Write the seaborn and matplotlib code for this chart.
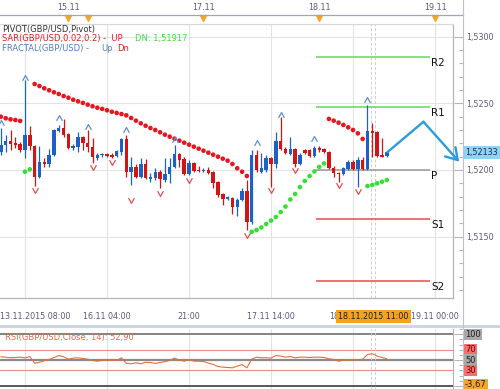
import numpy as np
import pandas as pd
import matplotlib
matplotlib.use("Agg")
import matplotlib.pyplot as plt
import seaborn as sns
from matplotlib.path import Path
from matplotlib.lines import Line2D
from matplotlib.patches import Rectangle
from matplotlib.ticker import MultipleLocator, FuncFormatter
import matplotlib.transforms as mtransforms

# ---------------- data (GBP/USD, H1) ----------------
bars = list(range(-22, 59))          # hourly bar index, 0 = 16.11 04:00
open_ = [1.52135, 1.52188, 1.52218, 1.52203, 1.52195, 1.52150, 1.52263, 1.52180, 1.51947, 1.52060,
         1.52045, 1.52113, 1.52293, 1.52315, 1.52270, 1.52165, 1.52173, 1.52248, 1.52203, 1.52173,
         1.52090, 1.52109, 1.52120, 1.52109, 1.52105, 1.52135, 1.52233, 1.51985, 1.52023, 1.51947,
         1.52045, 1.51932, 1.51940, 1.51985, 1.51925, 1.51970, 1.52023, 1.52120, 1.52083, 1.51970,
         1.52053, 1.52000, 1.51992, 1.52000, 1.51985, 1.51910, 1.51820, 1.51782, 1.51790, 1.51722,
         1.51775, 1.51842, 1.51610, 1.52113, 1.51985, 1.52000, 1.52090, 1.52045, 1.52218, 1.52158,
         1.52120, 1.52158, 1.52045, 1.52150, 1.52150, 1.52105, 1.52165, 1.52158, 1.52135, 1.52015,
         1.51977, 1.51970, 1.52008, 1.52060, 1.52008, 1.52075, 1.52008, 1.52293, 1.52285, 1.52113,
         1.52105]
high = [1.52315, 1.52263, 1.52300, 1.52248, 1.52210, 1.52675, 1.52330, 1.52188, 1.52180, 1.52090,
        1.52158, 1.52308, 1.52338, 1.52383, 1.52278, 1.52195, 1.52285, 1.52255, 1.52300, 1.52240,
        1.52128, 1.52128, 1.52128, 1.52128, 1.52150, 1.52240, 1.52263, 1.52098, 1.52045, 1.52090,
        1.52083, 1.51977, 1.52015, 1.52000, 1.52090, 1.52090, 1.52188, 1.52128, 1.52098, 1.52075,
        1.52060, 1.52030, 1.52015, 1.52023, 1.51989, 1.51914, 1.51827, 1.51805, 1.51797, 1.51790,
        1.51865, 1.51925, 1.52150, 1.52150, 1.52128, 1.52113, 1.52098, 1.52285, 1.52398, 1.52173,
        1.52248, 1.52165, 1.52128, 1.52158, 1.52158, 1.52180, 1.52180, 1.52165, 1.52139, 1.52030,
        1.51985, 1.52023, 1.52075, 1.52075, 1.52098, 1.52098, 1.52488, 1.52353, 1.52293, 1.52240,
        1.52143]
low = [1.52113, 1.52135, 1.52150, 1.52165, 1.52135, 1.52090, 1.52150, 1.51880, 1.51940, 1.52023,
       1.52023, 1.52105, 1.52285, 1.52248, 1.52158, 1.52150, 1.52135, 1.52150, 1.52135, 1.52053,
       1.52075, 1.52098, 1.52098, 1.52090, 1.52098, 1.52113, 1.51947, 1.51887, 1.51940, 1.51940,
       1.51936, 1.51910, 1.51925, 1.51865, 1.51910, 1.51902, 1.52015, 1.52023, 1.51962, 1.51962,
       1.51985, 1.51985, 1.51985, 1.51970, 1.51865, 1.51797, 1.51737, 1.51775, 1.51670, 1.51655,
       1.51767, 1.51550, 1.51595, 1.51985, 1.51977, 1.51985, 1.51872, 1.52015, 1.52150, 1.52120,
       1.52113, 1.52023, 1.52038, 1.52120, 1.52098, 1.52098, 1.52135, 1.52128, 1.52008, 1.51947,
       1.51910, 1.51962, 1.52000, 1.52000, 1.51872, 1.52000, 1.52000, 1.52098, 1.52098, 1.52094,
       1.52098]
close = [1.52188, 1.52218, 1.52195, 1.52188, 1.52150, 1.52263, 1.52180, 1.51947, 1.52060, 1.52045,
         1.52113, 1.52300, 1.52315, 1.52263, 1.52165, 1.52180, 1.52248, 1.52203, 1.52173, 1.52098,
         1.52113, 1.52120, 1.52105, 1.52101, 1.52143, 1.52233, 1.51985, 1.52023, 1.51947, 1.52045,
         1.51940, 1.51947, 1.51985, 1.51932, 1.51970, 1.52023, 1.52120, 1.52075, 1.51970, 1.52053,
         1.51992, 1.51989, 1.52000, 1.51977, 1.51902, 1.51812, 1.51782, 1.51797, 1.51722, 1.51775,
         1.51842, 1.51610, 1.52113, 1.52000, 1.52015, 1.52090, 1.52045, 1.52218, 1.52158, 1.52128,
         1.52158, 1.52045, 1.52113, 1.52128, 1.52105, 1.52165, 1.52150, 1.52135, 1.52015, 1.51977,
         1.51970, 1.52015, 1.52060, 1.52008, 1.52075, 1.52008, 1.52293, 1.52278, 1.52105, 1.52098,
         1.52133]
sar = [1.52400, 1.52388, 1.52380, 1.52375, 1.52368, 1.51987, 1.52005, 1.52645, 1.52630, 1.52613,
       1.52598, 1.52583, 1.52570, 1.52555, 1.52542, 1.52527, 1.52515, 1.52503, 1.52490, 1.52478,
       1.52467, 1.52458, 1.52448, 1.52437, 1.52428, 1.52420, 1.52410, 1.52390, 1.52370, 1.52350,
       1.52332, 1.52315, 1.52300, 1.52283, 1.52265, 1.52250, 1.52235, 1.52220, 1.52205, 1.52190,
       1.52175, 1.52160, 1.52145, 1.52130, 1.52115, 1.52100, 1.52085, 1.52070, 1.52045, 1.52013,
       1.51987, 1.51955, 1.51537, 1.51550, 1.51569, 1.51595, 1.51621, 1.51648, 1.51685, 1.51726,
       1.51779, 1.51820, 1.51872, 1.51918, 1.51955, 1.51989, 1.52023, 1.52049, 1.52383, 1.52370,
       1.52355, 1.52338, 1.52320, 1.52300, 1.52275, 1.52233, 1.51880, 1.51888, 1.51900, 1.51912,
       1.51925]
rsi = [56.6, 55.8, 54.7, 55.0, 55.8, 54.6, 57.0, 44.0, 46.0, 48.8,
       51.4, 55.0, 59.0, 56.6, 52.0, 54.0, 54.6, 53.3, 52.0, 49.4,
       48.0, 49.4, 50.0, 50.0, 49.4, 54.6, 44.0, 43.0, 45.0, 43.0,
       46.0, 45.5, 43.6, 45.5, 47.0, 49.4, 54.0, 50.0, 48.0, 51.4,
       48.0, 48.0, 47.5, 44.5, 41.6, 37.7, 36.4, 35.8, 35.2, 38.3,
       41.6, 35.2, 52.0, 55.8, 54.6, 54.6, 54.0, 59.0, 57.8, 55.8,
       57.0, 54.6, 55.8, 55.8, 55.2, 55.8, 55.8, 55.2, 52.7, 51.4,
       48.0, 50.0, 50.8, 50.8, 50.0, 52.0, 61.0, 62.5, 57.8, 55.2,
       52.9]
frac_up_bar = [-22, -17, -10, -4, 4, 14, 31, 36, 43, 54]
frac_up_val = [1.52353, 1.52690, 1.52390, 1.52323, 1.52300, 1.52225, 1.52205, 1.52413, 1.52233, 1.52525]
frac_dn_bar = [-15, -3, 1, 5, 11, 17, 29, 34, 39, 48, 52]
frac_dn_val = [1.51850, 1.52023, 1.52060, 1.51775, 1.51828, 1.51925, 1.51512, 1.51850, 1.52000, 1.51888, 1.51843]
pivot_names = ["R2", "R1", "P", "S1", "S2"]
pivot_vals = [1.52850, 1.52475, 1.52003, 1.51636, 1.51165]
pivot_span = [43.3, 67.0]
arrow_bar = [58.1, 65.6, 73.0]
arrow_val = [1.52133, 1.52362, 1.52062]
time_ticks = [-17, 0, 17, 34, 51, 68]
time_labels = ["13.11.2015 08:00", "16.11 04:00", "21:00", "17.11 14:00", "18", "19.11 00:00"]
day_ticks = [-8, -4, 20, 44, 68]
day_labels = ["15.11", "", "17.11", "18.11", "19.11"]
price_grid = [1.515, 1.520, 1.525, 1.530]
cursor_label = "18.11.2015 11:00"
cursor_bars = [54.66, 55.62]
last_price = 1.52133
rsi_levels = [100, 70, 50, 30]
rsi_min = -3.67

# ---------------- style ----------------
sns.set_style("white")
plt.rcParams['font.family'] = ['DejaVu Sans']

BLUE, RED = '#1c62c4', '#d41414'
SAR_RED, SAR_GREEN = '#e8141e', '#33e033'
AXC = '#5a5a7a'
W, H = 500, 389
X0, DX = 107.0, 4.824


def fx(px):
    return px / W


def fy(py):
    return 1 - py / H


def kx(px):
    return (px - X0) / DX


df = pd.DataFrame({'bar': bars, 'open': open_, 'high': high, 'low': low,
                   'close': close, 'sar': sar, 'rsi': rsi})
df['side'] = np.where(df['sar'] > df['high'], 'dn', 'up')
up = df['close'] >= df['open']
colors = np.where(up, BLUE, RED)

fig = plt.figure(figsize=(W / 100, H / 100), dpi=100)

PR_BOT, PR_TOP = 1.51040, 1.53095

# ---------------- main price axes ----------------
ax = fig.add_axes([0, fy(298), fx(453), (298 - 24) / H])
ax.set_xlim(kx(0), kx(453))
ax.set_ylim(PR_BOT, PR_TOP)
ax.spines['left'].set_visible(False)
ax.spines['top'].set_color('#d8d8d8')
ax.spines['right'].set_color('#b4b4b4')
ax.spines['bottom'].set_color('#b4b4c0')
for s in ax.spines.values():
    s.set_linewidth(0.9)
ax.set_yticks(price_grid)
ax.tick_params(axis='y', left=False, right=False, labelleft=False)
ax.set_xticks(time_ticks)
ax.set_xticklabels([''] * len(time_ticks))
ax.xaxis.set_minor_locator(MultipleLocator(17 / 6))
ax.tick_params(axis='x', which='major', direction='out', length=6.5, width=0.8,
               color='#a8a8b8')
ax.tick_params(axis='x', which='minor', direction='out', length=3.2, width=0.8, color='#a8a8b8')
ax.grid(True, which='major', color='#e3e3e3', lw=0.8)
ax.set_axisbelow(True)

# time labels under the axis
bt = mtransforms.blended_transform_factory(ax.transData, ax.transAxes)
LAB_Y = (298 - 316.5) / 274
for k, lab in zip(time_ticks, time_labels):
    if lab == time_labels[0]:
        ax.text(kx(0), LAB_Y, lab, transform=bt, ha='left', va='center', fontsize=5.8, color=AXC)
    elif lab == "18":
        ax.text(kx(329), LAB_Y, lab, transform=bt, ha='left', va='center', fontsize=5.8, color=AXC)
    else:
        ax.text(k, LAB_Y, lab, transform=bt, ha='center', va='center', fontsize=5.8, color=AXC)
ax.text(55.25, LAB_Y, cursor_label, transform=bt,
        ha='center', va='center', fontsize=5.8, color='#202020', zorder=10,
        bbox=dict(boxstyle='square,pad=0.3', fc='#f7a21b', ec='none'))

for cx in cursor_bars:
    ax.axvline(cx, color='#cfcfcf', lw=0.7, ls=(0, (3, 2)), zorder=1)

# pivot lines
piv_colors = ['#6edc6e', '#6edc6e', '#a0a0a0', '#ec5a5a', '#ec5a5a']
for name, v, c in zip(pivot_names, pivot_vals, piv_colors):
    ax.hlines(v, pivot_span[0], pivot_span[1], color=c, lw=1.2, zorder=2)
    ax.annotate(name, (kx(431.5), v), xytext=(0, -0.8), textcoords='offset points',
                ha='left', va='top', fontsize=7.5, color='#111111', annotation_clip=False)

# candles
ax.vlines(df['bar'], df['low'], df['high'], colors=colors, lw=0.9, zorder=3)
body = (df['close'] - df['open']).abs().clip(lower=0.00009)
ax.bar(df['bar'], body, bottom=np.minimum(df['open'], df['close']), width=0.72,
       color=colors, linewidth=0, zorder=4)

# parabolic SAR
sns.scatterplot(data=df, x='bar', y='sar', hue='side',
                palette={'dn': SAR_RED, 'up': SAR_GREEN}, s=11, edgecolor='none',
                legend=False, ax=ax, zorder=5)

# fractals
up_path = Path([(-1, -0.8), (0, 1), (1, -0.8)], [Path.MOVETO, Path.LINETO, Path.LINETO])
dn_path = Path([(-1, 0.8), (0, -1), (1, 0.8)], [Path.MOVETO, Path.LINETO, Path.LINETO])
ax.plot(frac_up_bar, frac_up_val, ls='none', marker=up_path, ms=4.2, mfc='none',
        mec='#5a8ed6', mew=0.9, zorder=6)
ax.plot(frac_dn_bar, frac_dn_val, ls='none', marker=dn_path, ms=4.2, mfc='none',
        mec='#e05050', mew=0.9, zorder=6)

# drawn arrow
ARROW = '#2a9de0'
ax.plot(arrow_bar[:2], arrow_val[:2], color=ARROW, lw=1.7, clip_on=False,
        solid_capstyle='round', zorder=7)
ax.annotate('', xy=(arrow_bar[2], arrow_val[2]), xytext=(arrow_bar[1], arrow_val[1]),
            arrowprops=dict(arrowstyle='->,head_length=0.8,head_width=0.5', color=ARROW,
                            lw=1.7, shrinkA=0, shrinkB=0),
            annotation_clip=False, zorder=7)
ax.set_xlabel('')
ax.set_ylabel('')

# legend texts
fig.text(fx(2), fy(29.3), "PIVOT(GBP/USD,Pivot)", fontsize=6, color='#333333', va='center')
fig.text(fx(2), fy(39), "SAR(GBP/USD,0.02,0.2) -  UP", fontsize=6, color='#e02020', va='center')
fig.text(fx(135), fy(39), "DN: 1,51917", fontsize=6, color='#3ee23e', va='center')
fig.text(fx(2), fy(48.7), "FRACTAL(GBP/USD) -", fontsize=6, color='#4f7fc4', va='center')
fig.text(fx(101), fy(48.7), "Up", fontsize=6, color='#4f7fc4', va='center')
fig.text(fx(117), fy(48.7), "Dn", fontsize=6, color='#e02020', va='center')

# ---------------- price scale ----------------
ax_s = fig.add_axes([fx(453), fy(298), fx(462.5) - fx(453), (298 - 24) / H])
ax_s.set_ylim(PR_BOT, PR_TOP)
ax_s.set_xlim(0, 1)
ax_s.patch.set_alpha(0)
for s in ax_s.spines.values():
    s.set_visible(False)
ax_s.set_xticks([])
ax_s.yaxis.tick_right()
ax_s.yaxis.set_major_locator(MultipleLocator(0.005))
ax_s.yaxis.set_minor_locator(MultipleLocator(0.001))
ax_s.yaxis.set_major_formatter(FuncFormatter(lambda v, p: f"{v:.4f}".replace('.', ',')))
ax_s.tick_params(axis='y', which='major', direction='in', length=6.5, width=0.8,
                 color='#b4b4c4', pad=2.5, labelsize=5.8, labelcolor=AXC)
ax_s.tick_params(axis='y', which='minor', direction='in', length=3, width=0.8, color='#b4b4c4')
ax.text(465 / 453, last_price, f"{last_price:.5f}".replace('.', ','),
        transform=ax.get_yaxis_transform(), ha='left', va='center', fontsize=5.8,
        color='#1a2a5a', zorder=10,
        bbox=dict(boxstyle='square,pad=0.25', fc='#8fd3f7', ec='none'))

# ---------------- top date strip ----------------
ax_t = fig.add_axes([0, fy(15), fx(462.5), 15 / H])
ax_t.set_xlim(kx(0), kx(462.5))
ax_t.set_ylim(0, 1)
ax_t.patch.set_alpha(0)
for nm, s in ax_t.spines.items():
    s.set_visible(nm == 'bottom')
ax_t.spines['bottom'].set_color('#a4a4b4')
ax_t.spines['bottom'].set_linewidth(0.9)
ax_t.set_yticks([])
ax_t.xaxis.set_major_locator(MultipleLocator(17 / 6))
ax_t.tick_params(axis='x', direction='out', length=2.6, width=0.8, color='#a4a4b4',
                 labelbottom=False)
tt = mtransforms.blended_transform_factory(ax_t.transData, ax_t.transAxes)
for k, lab in zip(day_ticks, day_labels):
    if lab:
        ax_t.text(k, 0.53, lab, transform=tt, ha='center', va='center', fontsize=5.8, color=AXC)
ax_t.plot(day_ticks, [-0.22] * len(day_ticks), transform=tt, ls='none', marker='v', ms=4.6,
          color='#f5a524', clip_on=False)

# ---------------- RSI panel ----------------
ax_r = fig.add_axes([0, 0, fx(453), (389 - 329) / H])
ax_r.set_xlim(kx(0), kx(453))
ax_r.set_ylim(-5.8, 110.3)
for nm, s in ax_r.spines.items():
    s.set_visible(nm == 'right')
ax_r.spines['right'].set_color('#b4b4b4')
ax_r.set_xticks(time_ticks)
ax_r.set_yticks([])
ax_r.tick_params(bottom=False, labelbottom=False)
ax_r.grid(True, axis='x', color='#e3e3e3', lw=0.8)
ax_r.set_axisbelow(True)
lvl_style = {100: ('#7a7a7a', 1.3), 70: ('#f28a8a', 0.8), 50: ('#8a8a8a', 1.6), 30: ('#f28a8a', 0.8)}
for lv in rsi_levels:
    c, lw = lvl_style[lv]
    ax_r.axhline(lv, color=c, lw=lw, zorder=1)
ax_r.axhline(0, color='#4a4a4a', lw=1.3, zorder=1)
for cx in cursor_bars:
    ax_r.axvline(cx, color='#cfcfcf', lw=0.7, ls=(0, (3, 2)), zorder=1)
sns.lineplot(data=df, x='bar', y='rsi', ax=ax_r, color='#e2703c', lw=0.8, zorder=3)
ax_r.set_xlabel('')
ax_r.set_ylabel('')
ax_r.text(kx(5), 94, f"RSI(GBP/USD.Close, 14): {rsi[-1]:.2f}".replace('.', ','),
          ha='left', va='center', fontsize=6, color='#e8684a', zorder=4)

ax_rs = fig.add_axes([fx(453), 0, fx(462.5) - fx(453), (389 - 329) / H])
ax_rs.set_ylim(-5.8, 110.3)
ax_rs.patch.set_alpha(0)
for s in ax_rs.spines.values():
    s.set_visible(False)
ax_rs.set_xticks([])
ax_rs.yaxis.tick_right()
ax_rs.yaxis.set_major_locator(MultipleLocator(50))
ax_rs.yaxis.set_minor_locator(MultipleLocator(10))
ax_rs.tick_params(axis='y', which='major', direction='in', length=6.5, width=0.8,
                  color='#b4b4c4', labelright=False)
ax_rs.tick_params(axis='y', which='minor', direction='in', length=3, width=0.8, color='#b4b4c4')

rsi_tag = {100: ('#a8a8a8', '#202020'), 70: ('#f07070', '#7a0000'),
           50: ('#a8a8a8', '#202020'), 30: ('#f07070', '#7a0000')}
for lv in rsi_levels:
    fc, tc = rsi_tag[lv]
    ax_r.text(465 / 453, lv, str(lv), transform=ax_r.get_yaxis_transform(), ha='left',
              va='center', fontsize=6, color=tc,
              bbox=dict(boxstyle='square,pad=0.15', fc=fc, ec='none'))
ax_r.annotate(f"{rsi_min:.2f}".replace('.', ','), (465 / 453, rsi_min),
              xycoords=ax_r.get_yaxis_transform(), xytext=(0, 2.2), textcoords='offset points',
              ha='left', va='center', fontsize=6, color='#202020', annotation_clip=False,
              bbox=dict(boxstyle='square,pad=0.15', fc='#f5a623', ec='none'))

# separators
fig.add_artist(Rectangle((0, fy(328.3)), 1, 3.3 / H, transform=fig.transFigure,
                         fc='#cdd7e3', ec='none'))
fig.add_artist(Line2D([fx(462.5)] * 2, [fy(328.3), 1], transform=fig.transFigure,
                      color='#c0c0cc', lw=0.8))
fig.add_artist(Line2D([fx(462.5)] * 2, [0, fy(331)], transform=fig.transFigure,
                      color='#c0c0cc', lw=0.8))

fig.savefig("out.png", dpi=100)
